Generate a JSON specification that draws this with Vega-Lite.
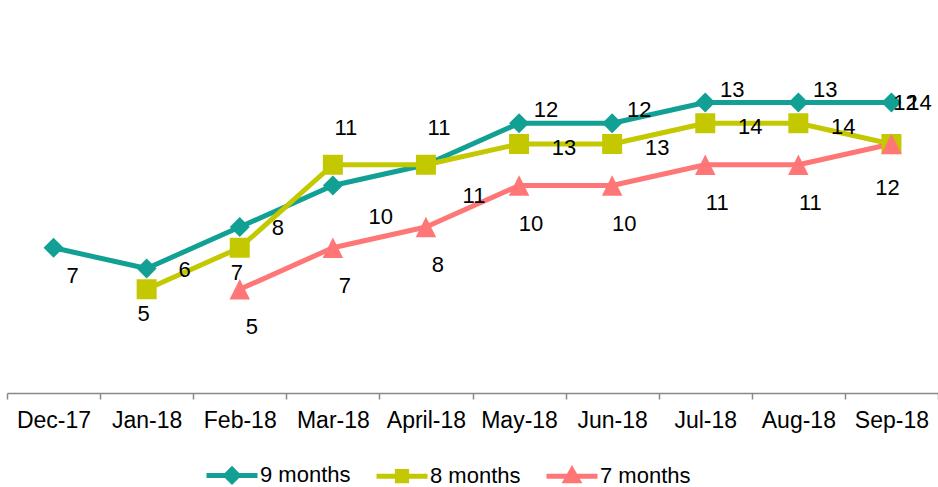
{
  "$schema": "https://vega.github.io/schema/vega-lite/v6.json",
  "width": 931,
  "height": 332,
  "autosize": {"type": "none"},
  "padding": {"left": 7, "top": 61, "right": 0, "bottom": 94},
  "background": "#ffffff",
  "config": {
    "font": "Liberation Sans",
    "view": {"stroke": null},
    "text": {"font": "Liberation Sans"},
    "legend": {
      "orient": "none",
      "direction": "horizontal",
      "legendX": 197,
      "legendY": 386,
      "padding": 0,
      "symbolSize": 2601,
      "symbolStrokeWidth": 5,
      "labelFontSize": 22,
      "labelFont": "Liberation Sans",
      "labelColor": "#000000",
      "labelOffset": 0,
      "labelLimit": 0,
      "columnPadding": 15
    }
  },
  "data": {
    "values": [
      {"month": "Dec-17", "series": "9 months", "value": 7, "label": 7},
      {"month": "Jan-18", "series": "9 months", "value": 6, "label": 6},
      {"month": "Feb-18", "series": "9 months", "value": 8, "label": 8},
      {"month": "Mar-18", "series": "9 months", "value": 10, "label": 10},
      {"month": "April-18", "series": "9 months", "value": 11, "label": 11},
      {"month": "May-18", "series": "9 months", "value": 13, "label": 12},
      {"month": "Jun-18", "series": "9 months", "value": 13, "label": 12},
      {"month": "Jul-18", "series": "9 months", "value": 14, "label": 13},
      {"month": "Aug-18", "series": "9 months", "value": 14, "label": 13},
      {"month": "Sep-18", "series": "9 months", "value": 14, "label": 12},
      {"month": "Jan-18", "series": "8 months", "value": 5, "label": 5},
      {"month": "Feb-18", "series": "8 months", "value": 7, "label": 7},
      {"month": "Mar-18", "series": "8 months", "value": 11, "label": 11},
      {"month": "April-18", "series": "8 months", "value": 11, "label": 11},
      {"month": "May-18", "series": "8 months", "value": 12, "label": 13},
      {"month": "Jun-18", "series": "8 months", "value": 12, "label": 13},
      {"month": "Jul-18", "series": "8 months", "value": 13, "label": 14},
      {"month": "Aug-18", "series": "8 months", "value": 13, "label": 14},
      {"month": "Sep-18", "series": "8 months", "value": 12, "label": 14},
      {"month": "Feb-18", "series": "7 months", "value": 5, "label": 5},
      {"month": "Mar-18", "series": "7 months", "value": 7, "label": 7},
      {"month": "April-18", "series": "7 months", "value": 8, "label": 8},
      {"month": "May-18", "series": "7 months", "value": 10, "label": 10},
      {"month": "Jun-18", "series": "7 months", "value": 10, "label": 10},
      {"month": "Jul-18", "series": "7 months", "value": 11, "label": 11},
      {"month": "Aug-18", "series": "7 months", "value": 11, "label": 11},
      {"month": "Sep-18", "series": "7 months", "value": 12, "label": 12}
    ]
  },
  "encoding": {
    "x": {
      "field": "month",
      "type": "nominal",
      "bandPosition": 0.5,
      "sort": ["Dec-17", "Jan-18", "Feb-18", "Mar-18", "April-18", "May-18", "Jun-18", "Jul-18", "Aug-18", "Sep-18"],
      "scale": {"type": "band", "paddingInner": 0, "paddingOuter": 0},
      "axis": {
        "title": null,
        "labelAngle": 0,
        "labelFontSize": 23,
        "labelColor": "#000000",
        "labelFont": "Liberation Sans",
        "labelPadding": 10,
        "domainColor": "#898989",
        "domainWidth": 1.5,
        "tickColor": "#898989",
        "tickWidth": 1.5,
        "tickSize": 6,
        "tickBand": "extent",
        "grid": false
      }
    },
    "y": {
      "field": "value",
      "type": "quantitative",
      "scale": {"domain": [0, 16], "nice": false, "zero": true},
      "axis": null
    }
  },
  "layer": [
    {
      "transform": [{"filter": {"field": "series", "equal": "none"}}],
      "mark": {"type": "point", "filled": true, "opacity": 1, "strokeWidth": 5},
      "encoding": {
        "color": {
          "field": "series",
          "type": "nominal",
          "title": null,
          "scale": {"domain": ["9 months", "8 months", "7 months"], "range": ["#12A094", "#C3C800", "#FF7676"]}
        },
        "stroke": {
          "field": "series",
          "type": "nominal",
          "title": null,
          "scale": {"domain": ["9 months", "8 months", "7 months"], "range": ["#12A094", "#C3C800", "#FF7676"]}
        },
        "shape": {
          "field": "series",
          "type": "nominal",
          "title": null,
          "scale": {
            "domain": ["9 months", "8 months", "7 months"],
            "range": [
              "M-1,0H1M0,-0.24L0.24,0L0,0.24L-0.24,0Z",
              "M-1,0H1M-0.18,-0.18H0.18V0.18H-0.18Z",
              "M-1,0H1M0,-0.24L0.24,0.18L-0.24,0.18Z"
            ]
          }
        }
      }
    },
    {
      "mark": {"type": "line", "strokeWidth": 5, "strokeJoin": "round"},
      "encoding": {
        "color": {"field": "series", "type": "nominal", "title": null},
        "order": {"value": null}
      }
    },
    {
      "transform": [{"filter": {"field": "series", "equal": "9 months"}}],
      "mark": {"type": "point", "filled": true, "opacity": 1, "size": 400, "shape": "diamond", "color": "#12A094"}
    },
    {
      "transform": [{"filter": {"field": "series", "equal": "8 months"}}],
      "mark": {"type": "point", "filled": true, "opacity": 1, "size": 400, "shape": "square", "color": "#C3C800"}
    },
    {
      "transform": [{"filter": {"field": "series", "equal": "7 months"}}],
      "mark": {"type": "point", "filled": true, "opacity": 1, "size": 420, "shape": "M0,-1L1,1L-1,1Z", "color": "#FF7676"}
    },
    {
      "transform": [{"filter": {"and": [{"field": "series", "equal": "9 months"}, {"field": "month", "oneOf": ["Dec-17"]}]}}],
      "mark": {"type": "text", "fontSize": 22, "color": "#000000", "align": "center", "baseline": "middle", "dx": 19, "dy": 28},
      "encoding": {"text": {"field": "label", "type": "nominal"}}
    },
    {
      "transform": [{"filter": {"and": [{"field": "series", "equal": "9 months"}, {"field": "month", "oneOf": ["Jan-18", "Feb-18"]}]}}],
      "mark": {"type": "text", "fontSize": 22, "color": "#000000", "align": "center", "baseline": "middle", "dx": 38, "dy": 1},
      "encoding": {"text": {"field": "label", "type": "nominal"}}
    },
    {
      "transform": [{"filter": {"and": [{"field": "series", "equal": "9 months"}, {"field": "month", "oneOf": ["Mar-18", "April-18"]}]}}],
      "mark": {"type": "text", "fontSize": 22, "color": "#000000", "align": "center", "baseline": "middle", "dx": 48, "dy": 31},
      "encoding": {"text": {"field": "label", "type": "nominal"}}
    },
    {
      "transform": [{"filter": {"and": [{"field": "series", "equal": "9 months"}, {"field": "month", "oneOf": ["May-18", "Jun-18", "Jul-18", "Aug-18"]}]}}],
      "mark": {"type": "text", "fontSize": 22, "color": "#000000", "align": "center", "baseline": "middle", "dx": 27, "dy": -13},
      "encoding": {"text": {"field": "label", "type": "nominal"}}
    },
    {
      "transform": [{"filter": {"and": [{"field": "series", "equal": "9 months"}, {"field": "month", "oneOf": ["Sep-18"]}]}}],
      "mark": {"type": "text", "fontSize": 22, "color": "#000000", "align": "center", "baseline": "middle", "dx": 14, "dy": 0},
      "encoding": {"text": {"field": "label", "type": "nominal"}}
    },
    {
      "transform": [{"filter": {"and": [{"field": "series", "equal": "8 months"}, {"field": "month", "oneOf": ["Jan-18", "Feb-18"]}]}}],
      "mark": {"type": "text", "fontSize": 22, "color": "#000000", "align": "center", "baseline": "middle", "dx": -3, "dy": 25},
      "encoding": {"text": {"field": "label", "type": "nominal"}}
    },
    {
      "transform": [{"filter": {"and": [{"field": "series", "equal": "8 months"}, {"field": "month", "oneOf": ["Mar-18", "April-18"]}]}}],
      "mark": {"type": "text", "fontSize": 22, "color": "#000000", "align": "center", "baseline": "middle", "dx": 13, "dy": -37},
      "encoding": {"text": {"field": "label", "type": "nominal"}}
    },
    {
      "transform": [{"filter": {"and": [{"field": "series", "equal": "8 months"}, {"field": "month", "oneOf": ["May-18", "Jun-18", "Jul-18", "Aug-18"]}]}}],
      "mark": {"type": "text", "fontSize": 22, "color": "#000000", "align": "center", "baseline": "middle", "dx": 45, "dy": 4},
      "encoding": {"text": {"field": "label", "type": "nominal"}}
    },
    {
      "transform": [{"filter": {"and": [{"field": "series", "equal": "8 months"}, {"field": "month", "oneOf": ["Sep-18"]}]}}],
      "mark": {"type": "text", "fontSize": 22, "color": "#000000", "align": "center", "baseline": "middle", "dx": 28, "dy": -41},
      "encoding": {"text": {"field": "label", "type": "nominal"}}
    },
    {
      "transform": [{"filter": {"and": [{"field": "series", "equal": "7 months"}, {"not": {"field": "month", "equal": "Sep-18"}}]}}],
      "mark": {"type": "text", "fontSize": 22, "color": "#000000", "align": "center", "baseline": "middle", "dx": 12, "dy": 38},
      "encoding": {"text": {"field": "label", "type": "nominal"}}
    },
    {
      "transform": [{"filter": {"and": [{"field": "series", "equal": "7 months"}, {"field": "month", "equal": "Sep-18"}]}}],
      "mark": {"type": "text", "fontSize": 22, "color": "#000000", "align": "center", "baseline": "middle", "dx": -4, "dy": 44},
      "encoding": {"text": {"field": "label", "type": "nominal"}}
    }
  ]
}
